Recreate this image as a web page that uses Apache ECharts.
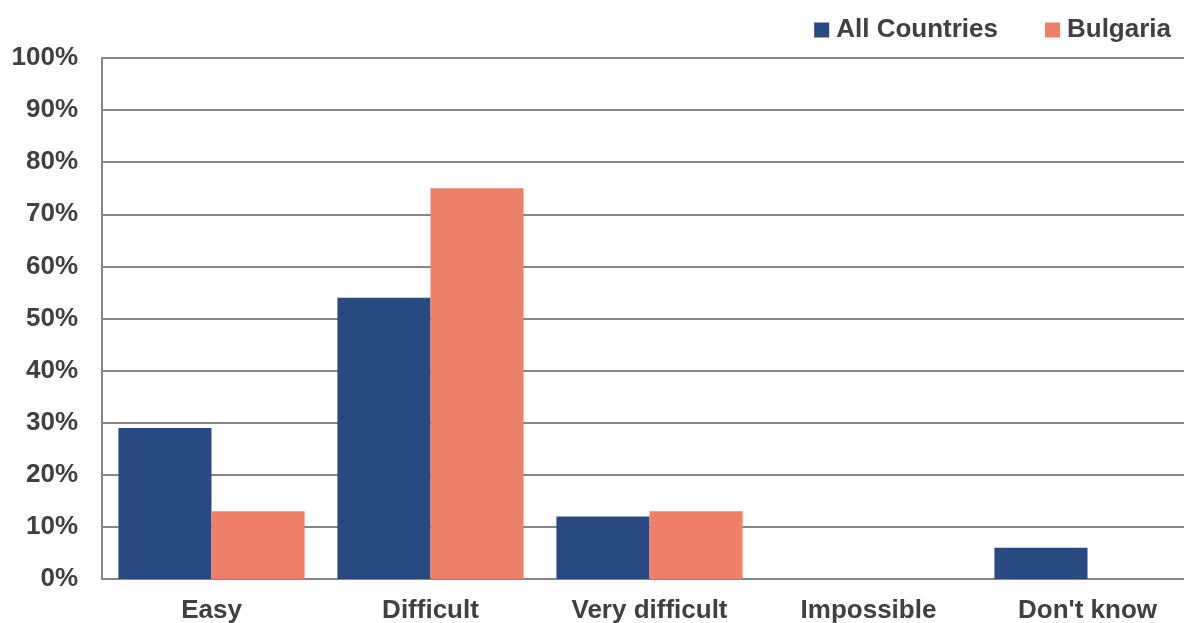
<!DOCTYPE html>
<html>
<head>
<meta charset="utf-8">
<script src="https://cdn.jsdelivr.net/npm/echarts@6/dist/echarts.min.js"></script>
<style>
  html, body { margin: 0; padding: 0; background: #fff; overflow: hidden; }
  #chart { width: 1184px; height: 623px; }
</style>
</head>
<body>
<div id="chart"></div>
<script>
// Difficulty answers, share of respondents (%)
const categories = ['Easy', 'Difficult', 'Very difficult', 'Impossible', "Don't know"];
const allCountries = [29, 54, 12, 0, 6];
const bulgaria = [13, 75, 13, 0, 0];
const seriesNames = ['All Countries', 'Bulgaria'];

const textColor = '#404040';
const gridColor = '#868686';
const font = 'Liberation Sans, Arial, sans-serif';

const chart = echarts.init(document.getElementById('chart'));
chart.setOption({
  animation: false,
  backgroundColor: '#ffffff',
  legend: {
    data: seriesNames,
    right: 8,
    top: 12,
    itemWidth: 15,
    itemHeight: 15,
    itemGap: 47,
    icon: 'rect',
    textStyle: { color: textColor, fontSize: 26, fontWeight: 'bold', fontFamily: font, padding: [0, 0, 0, 2] }
  },
  // plot area runs slightly past the right edge of the canvas
  grid: { left: 102, right: -13, top: 58, bottom: 44, outerBoundsMode: 'none', containLabel: false },
  xAxis: {
    type: 'category',
    data: categories,
    axisLine: { show: true, lineStyle: { color: gridColor, width: 2 } },
    axisTick: { show: false },
    axisLabel: { color: textColor, fontSize: 26, fontWeight: 'bold', fontFamily: font, margin: 19 }
  },
  yAxis: {
    type: 'value',
    min: 0,
    max: 100,
    interval: 10,
    axisLine: { show: true, lineStyle: { color: gridColor, width: 2 } },
    axisTick: { show: false },
    axisLabel: { color: textColor, fontSize: 26, fontWeight: 'bold', fontFamily: font, margin: 24, formatter: '{value}%' },
    splitLine: { show: true, lineStyle: { color: gridColor, width: 2 } }
  },
  series: [
    {
      name: seriesNames[0],
      type: 'bar',
      data: allCountries,
      barGap: '0%',
      barCategoryGap: '15%',
      itemStyle: { color: '#294A80' }
    },
    {
      name: seriesNames[1],
      type: 'bar',
      data: bulgaria,
      itemStyle: { color: '#EE8069' }
    }
  ]
});
</script>
</body>
</html>
